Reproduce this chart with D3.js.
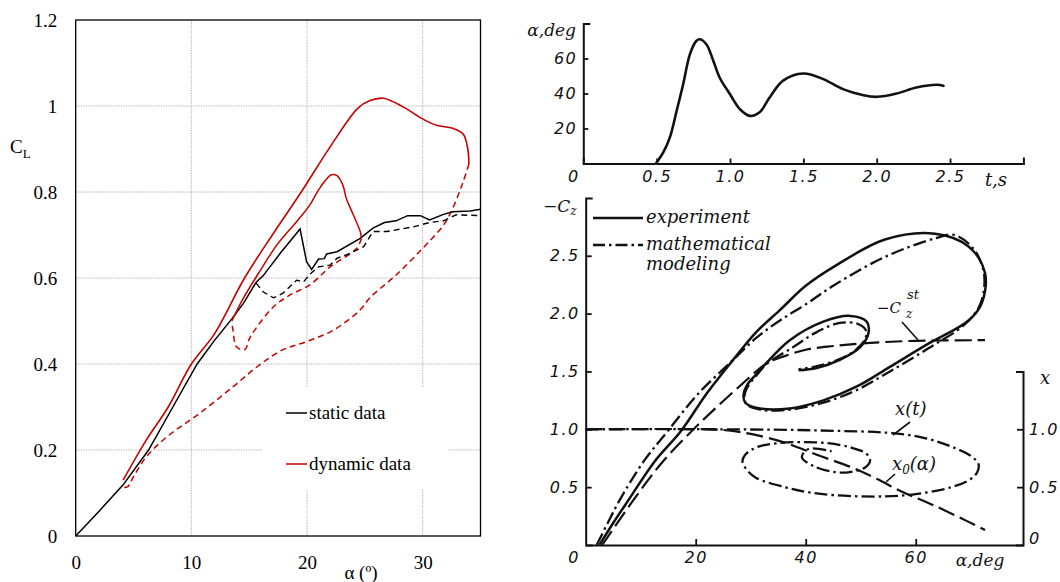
<!DOCTYPE html>
<html><head><meta charset="utf-8">
<script src="https://cdn.jsdelivr.net/npm/d3@7/dist/d3.min.js"></script>
<style>body{margin:0;background:#fff}</style>
</head><body><svg id="c" width="1060" height="582" xmlns="http://www.w3.org/2000/svg"></svg>
<script>
// ---------- LEFT PANEL DATA (alpha deg, CL) ----------
const leftXTicks = [0, 10, 20, 30];
const leftYTicks = [0, 0.2, 0.4, 0.6, 0.8, 1, 1.2];
const staticUp = [[0,0],[2,0.057],[4.1,0.119],[6.3,0.2],[8.4,0.3],[10.5,0.4],[12,0.455],[13.5,0.505],[14.5,0.541],[15.6,0.59],[16.2,0.605],[17.7,0.658],[19.4,0.714],[19.96,0.638],[20.4,0.62],[21.0,0.644],[21.5,0.645],[21.7,0.656],[22.6,0.661],[24.6,0.692],[25.7,0.716],[26.7,0.729],[27.7,0.733],[28.7,0.745],[29.8,0.745],[30.6,0.735],[31.8,0.748],[32.6,0.754],[34.1,0.756],[35,0.760]];
const staticDown = [[15.6,0.588],[16.2,0.568],[17.1,0.554],[17.9,0.564],[19.1,0.595],[19.7,0.591],[20.25,0.609],[21.0,0.626],[22.0,0.630],[22.6,0.646],[23.7,0.657],[24.9,0.673],[25.7,0.708],[26.9,0.708],[29.2,0.719],[30.6,0.729],[31.8,0.733],[32.9,0.747],[35,0.745]];
const dynOuterUp = [[4.1,0.13],[6.1,0.223],[8,0.3],[10.0,0.40],[12.0,0.47],[14.6,0.60],[17,0.70],[19.5,0.80],[22.0,0.905],[24.4,0.995],[25.4,1.012],[26.6,1.018],[28.3,0.998],[30.0,0.97],[31.2,0.955],[32.6,0.948],[33.5,0.935],[33.9,0.9],[34.0,0.865]];
const dynOuterDown = [[34.0,0.865],[33.5,0.824],[32.6,0.762],[31.8,0.723],[30.0,0.669],[27.7,0.607],[25.4,0.553],[24.6,0.526],[22.3,0.479],[19.96,0.452],[17.9,0.433],[15.9,0.398],[13.6,0.347],[10.7,0.285],[7.9,0.231],[6.1,0.184],[5.0,0.138],[4.5,0.115],[4.1,0.113]];
const dynInnerUp = [[13.5,0.50],[14.5,0.553],[15.9,0.615],[17.4,0.677],[19.1,0.731],[20.25,0.770],[21.1,0.809],[22.1,0.840],[22.6,0.838],[23.1,0.816],[23.4,0.785],[24.0,0.747],[24.6,0.708],[24.7,0.692]];
const dynInnerDown = [[24.7,0.692],[24.3,0.669],[22.0,0.626],[20.25,0.584],[18.5,0.560],[17.1,0.533],[15.1,0.463],[14.6,0.433],[13.9,0.440],[13.6,0.479],[13.5,0.495]];
const leftLegend = ["static data", "dynamic data"];

// ---------- RIGHT TOP DATA (t s, alpha deg) ----------
const topTTicks = [0, 0.5, 1.0, 1.5, 2.0, 2.5];
const topATicks = [20, 40, 60];
const alphaT = [[0.495,0],[0.545,6.3],[0.59,14.9],[0.636,30],[0.68,45],[0.727,62.5],[0.77,70],[0.795,71],[0.84,68],[0.886,58.7],[0.93,49],[1.0,39.6],[1.068,31],[1.136,27.2],[1.2,29.1],[1.27,37.7],[1.36,47.2],[1.5,51.4],[1.636,48.2],[1.77,42.5],[1.91,39],[2.0,38.1],[2.136,40],[2.27,43.4],[2.41,45],[2.455,44.4]];

// ---------- RIGHT BOTTOM DATA (alpha deg, -Cz / x) ----------
const botXTicks = [0, 20, 40, 60];
const botYTicks = [0.5, 1.0, 1.5, 2.0, 2.5];
const rightYTicks = [0, 0.5, 1.0];
const experiment = [[2.5,0],[5,0.19],[7.8,0.39],[12.5,0.72],[17.4,0.99],[22,1.31],[26.8,1.60],[31,1.84],[35.3,2.03],[40,2.24],[45.3,2.41],[54.4,2.64],[63.5,2.69],[69.6,2.58],[72.6,2.35],[72,2.09],[69.6,1.94],[62.3,1.74],[55.3,1.54],[49.3,1.37],[43.2,1.25],[37.1,1.18],[31.7,1.18],[29,1.23],[28.7,1.30],[29.3,1.38],[31.1,1.48],[32.6,1.56],[37.1,1.77],[43.2,1.93],[48.1,1.98],[51.1,1.93],[51.4,1.83],[49.9,1.71],[46.2,1.60],[42,1.53],[38.7,1.51]];
const modeling = [[2,0],[4,0.19],[6.2,0.39],[10.5,0.72],[15,0.99],[20.5,1.31],[26.8,1.60],[31,1.79],[35.3,1.94],[40,2.08],[45.3,2.25],[54.4,2.49],[63.5,2.65],[67,2.68],[70.5,2.56],[72.4,2.35],[71.8,2.09],[69,1.91],[62.3,1.70],[55.3,1.50],[49.3,1.34],[43.2,1.23],[37.1,1.17],[31.7,1.17],[29.2,1.22],[28.9,1.30],[29.6,1.38],[31.3,1.48],[32.8,1.56],[37.7,1.71],[42,1.84],[46.2,1.92],[49.5,1.91],[51,1.85],[50.8,1.78],[49.2,1.69],[45.8,1.60],[41.5,1.54],[38.7,1.52]];
const staticCz = [[3,0],[8.7,0.39],[14,0.72],[19.6,1.0],[24,1.2],[28.4,1.39],[32.9,1.57],[36,1.63],[40.2,1.69],[45,1.72],[51,1.745],[60,1.765],[72.6,1.77]];
const xOfT = [[0,1.0],[25,1.0],[42.3,0.99],[56.2,0.965],[62,0.92],[66.5,0.85],[70,0.77],[71.4,0.70],[71.2,0.63],[70,0.57],[66.5,0.50],[60,0.44],[54.4,0.42],[45.3,0.43],[40,0.46],[36.2,0.50],[31,0.58],[29.3,0.65],[28.5,0.72],[29,0.78],[31.4,0.85],[35,0.88],[39.3,0.89],[44,0.88],[48.4,0.84],[51,0.79],[51.7,0.73],[50.8,0.67],[48,0.63],[45.3,0.63],[41.5,0.68],[39.3,0.76],[40.5,0.83],[44.7,0.81]];
const x0OfAlpha = [[0,1.0],[22,1.0],[25.9,0.99],[30,0.96],[36.2,0.885],[42,0.78],[48.4,0.67],[53,0.57],[57.5,0.46],[62,0.37],[67,0.26],[72.6,0.13]];
const botLegend = ["experiment", "mathematical", "modeling"];

// ================= DRAW =================
const svg = d3.select("#c");
const SERIF = "'Liberation Serif','Times New Roman',serif";
const RED = "#c40000";

// ---- Left panel ----
const xL = d3.scaleLinear([0,35],[75.7,480.5]);
const yL = d3.scaleLinear([0,1.2],[536,20]);
const gL = svg.append("g");
gL.selectAll(".vg").data(leftXTicks.slice(1)).join("line")
  .attr("x1", d=>xL(d)).attr("x2", d=>xL(d)).attr("y1", yL(1.2)).attr("y2", yL(0))
  .attr("stroke","#b8b8b8").attr("stroke-width",1).attr("stroke-dasharray","1.5,1");
gL.selectAll(".hg").data(leftYTicks.slice(1,-1)).join("line")
  .attr("y1", d=>yL(d)).attr("y2", d=>yL(d)).attr("x1", xL(0)).attr("x2", xL(35))
  .attr("stroke","#b8b8b8").attr("stroke-width",1).attr("stroke-dasharray","1.5,1");
gL.append("rect").attr("x",263).attr("y",387).attr("width",185).attr("height",102).attr("fill","#fff");
gL.append("rect").attr("x",xL(0)).attr("y",yL(1.2)).attr("width",xL(35)-xL(0)).attr("height",yL(0)-yL(1.2))
  .attr("fill","none").attr("stroke","#000").attr("stroke-width",1.3);
const axL = gL.append("g").attr("transform",`translate(${xL(0)},0)`)
  .call(d3.axisLeft(yL).tickValues(leftYTicks).tickFormat(d=>String(d)).tickSize(0).tickPadding(18.5));
const axB = gL.append("g").attr("transform",`translate(0,${yL(0)})`)
  .call(d3.axisBottom(xL).tickValues(leftXTicks).tickFormat(d=>String(d)).tickSize(0).tickPadding(20));
[axL, axB].forEach(a=>{a.select(".domain").remove(); a.selectAll("text").attr("font-family",SERIF).attr("font-size",19).attr("fill","#000");});
const cl = gL.append("text").attr("x",10).attr("y",153).attr("font-family",SERIF).attr("font-size",19);
cl.append("tspan").text("C");
cl.append("tspan").attr("font-size",13).attr("dy",5).text("L");
gL.append("text").attr("x",361).attr("y",579).attr("text-anchor","middle").attr("font-family",SERIF).attr("font-size",19).text("α (º)");
const lineL = d3.line().x(d=>xL(d[0])).y(d=>yL(d[1]));
const lineLs = d3.line().x(d=>xL(d[0])).y(d=>yL(d[1])).curve(d3.curveCatmullRom.alpha(0.5));
gL.append("path").attr("d",lineLs(dynOuterDown)).attr("fill","none").attr("stroke",RED).attr("stroke-width",1.5).attr("stroke-dasharray","6,4");
gL.append("path").attr("d",lineLs(dynInnerDown)).attr("fill","none").attr("stroke",RED).attr("stroke-width",1.5).attr("stroke-dasharray","6,4");
gL.append("path").attr("d",lineL(staticDown)).attr("fill","none").attr("stroke","#000").attr("stroke-width",1.4).attr("stroke-dasharray","6,4");
gL.append("path").attr("d",lineL(staticUp)).attr("fill","none").attr("stroke","#000").attr("stroke-width",1.5);
gL.append("path").attr("d",lineLs(dynOuterUp)).attr("fill","none").attr("stroke",RED).attr("stroke-width",1.6);
gL.append("path").attr("d",lineLs(dynInnerUp)).attr("fill","none").attr("stroke",RED).attr("stroke-width",1.5);
const legCol = ["#000", RED];
leftLegend.forEach((t,i)=>{
  const y = 413 + i*51;
  gL.append("line").attr("x1",286).attr("x2",307).attr("y1",y).attr("y2",y).attr("stroke",legCol[i]).attr("stroke-width",1.5);
  gL.append("text").attr("x",309).attr("y",y+6).attr("font-family",SERIF).attr("font-size",19).text(t);
});

// ---- Right panel common styling ----
const NUMF = "'DejaVu Sans','Liberation Sans',sans-serif";
const TXTF = "'DejaVu Serif','Liberation Serif',serif";
const INK = "#111";
function styleAxis(a){
  a.selectAll(".domain").attr("stroke",INK).attr("stroke-width",2);
  a.selectAll(".tick line").attr("stroke",INK).attr("stroke-width",1.8);
  a.selectAll("text").attr("font-family",NUMF).attr("font-style","italic").attr("font-size",16).attr("letter-spacing",1.5).attr("fill",INK);
}

// ---- Right top: alpha(t) ----
const xT = d3.scaleLinear([0,3],[583.3,1023.4]);
const yT = d3.scaleLinear([0,80],[163.5,23.5]);
const gT = svg.append("g");
const axTB = gT.append("g").attr("transform",`translate(0,${yT(0)})`)
  .call(d3.axisBottom(xT).tickValues(topTTicks).tickFormat(d=>d===0?"0":d.toFixed(1)).tickSizeInner(-5).tickSizeOuter(-6).tickPadding(7));
axTB.selectAll(".tick").filter(d=>d===0).select("line").remove();
styleAxis(axTB);
axTB.selectAll(".tick").filter(d=>d===0).select("text").attr("dx",-10);
const axTL = gT.append("g").attr("transform",`translate(${xT(0)},0)`)
  .call(d3.axisLeft(yT).tickValues(topATicks).tickFormat(d=>String(d)).tickSizeInner(-5).tickSizeOuter(-7).tickPadding(6));
styleAxis(axTL);
gT.append("text").attr("x",576).attr("y",36).attr("text-anchor","end").attr("font-family",TXTF).attr("font-style","italic").attr("font-size",17).attr("fill",INK).text("α,deg");
gT.append("text").attr("x",996).attr("y",186).attr("text-anchor","middle").attr("font-family",TXTF).attr("font-style","italic").attr("font-size",18).attr("fill",INK).text("t,s");
gT.append("path").attr("d",d3.line().x(d=>xT(d[0])).y(d=>yT(d[1])).curve(d3.curveCatmullRom.alpha(0.5))(alphaT))
  .attr("fill","none").attr("stroke",INK).attr("stroke-width",2.6).attr("stroke-linecap","round");

// ---- Right bottom: -Cz(alpha), x ----
const xB = d3.scaleLinear([0,79.5],[585.7,1023]);
const yB = d3.scaleLinear([0,3],[545,197.9]);
const yR = d3.scaleLinear([0,1.5],[545,371.4]);
const gB = svg.append("g");
const axBB = gB.append("g").attr("transform",`translate(0,${yB(0)})`)
  .call(d3.axisBottom(xB).tickValues(botXTicks).tickFormat(d=>String(d)).tickSizeInner(-6).tickSizeOuter(0).tickPadding(7));
axBB.selectAll(".tick").filter(d=>d===0).select("line").remove();
styleAxis(axBB);
axBB.selectAll(".tick").filter(d=>d===0).select("text").attr("dx",-12);
const axBL = gB.append("g").attr("transform",`translate(${xB(0)},0)`)
  .call(d3.axisLeft(yB).tickValues(botYTicks).tickFormat(d=>d.toFixed(1)).tickSizeInner(-6).tickSizeOuter(-7).tickPadding(6));
styleAxis(axBL);
const axBR = gB.append("g").attr("transform",`translate(${xB(79.5)},0)`)
  .call(d3.axisRight(yR).tickValues(rightYTicks).tickFormat(d=>d===0?"0":d.toFixed(1)).tickSizeInner(-6).tickSizeOuter(-7).tickPadding(6));
axBR.selectAll(".tick").filter(d=>d===0).select("line").remove();
styleAxis(axBR);
axBR.selectAll(".tick").filter(d=>d===0).select("text").attr("dy","-0.1em");
const cz = gB.append("text").attr("x",543).attr("y",212).attr("font-family",TXTF).attr("font-style","italic").attr("font-size",17).attr("fill",INK);
cz.append("tspan").text("−C");
cz.append("tspan").attr("font-size",12).attr("dy",3).text("z");
gB.append("text").attr("x",1040).attr("y",384).attr("font-family",TXTF).attr("font-style","italic").attr("font-size",18).attr("fill",INK).text("x");
gB.append("text").attr("x",980).attr("y",566).attr("text-anchor","middle").attr("font-family",TXTF).attr("font-style","italic").attr("font-size",17).attr("fill",INK).text("α,deg");

const lineB = d3.line().x(d=>xB(d[0])).y(d=>yB(d[1])).curve(d3.curveCatmullRom.alpha(0.5));
const DASHDOT = "13,4,2.5,4";
const LONGDASH = "17,6";
gB.append("path").attr("d",lineB(staticCz)).attr("fill","none").attr("stroke",INK).attr("stroke-width",2.2).attr("stroke-dasharray",LONGDASH);
gB.append("path").attr("d",lineB(x0OfAlpha)).attr("fill","none").attr("stroke",INK).attr("stroke-width",2.2).attr("stroke-dasharray",LONGDASH);
gB.append("path").attr("d",lineB(xOfT)).attr("fill","none").attr("stroke",INK).attr("stroke-width",2.3).attr("stroke-dasharray",DASHDOT);
gB.append("path").attr("d",lineB(modeling)).attr("fill","none").attr("stroke",INK).attr("stroke-width",2.3).attr("stroke-dasharray",DASHDOT);
gB.append("path").attr("d",lineB(experiment)).attr("fill","none").attr("stroke",INK).attr("stroke-width",2.5);

gB.append("line").attr("x1",593).attr("x2",643).attr("y1",218).attr("y2",218).attr("stroke",INK).attr("stroke-width",2.6);
gB.append("line").attr("x1",593).attr("x2",643).attr("y1",245).attr("y2",245).attr("stroke",INK).attr("stroke-width",2.4).attr("stroke-dasharray","12,4,2.5,4");
[[botLegend[0],223],[botLegend[1],250],[botLegend[2],270]].forEach(([t,y])=>{
  gB.append("text").attr("x",646).attr("y",y).attr("font-family",TXTF).attr("font-style","italic").attr("font-size",18).attr("fill",INK).text(t);
});
// annotations
const annot = (x,y,s,t)=>gB.append("text").attr("x",x).attr("y",y).attr("font-family",TXTF).attr("font-style","italic").attr("font-size",s).attr("fill",INK).text(t);
annot(877,313,15,"−C");
annot(907,299,13,"st");
annot(906,318,12,"z");
gB.append("line").attr("x1",902).attr("y1",322).attr("x2",918).attr("y2",340).attr("stroke",INK).attr("stroke-width",1.6);
annot(895,415,18,"x(t)");
gB.append("line").attr("x1",910).attr("y1",422).attr("x2",893).attr("y2",435).attr("stroke",INK).attr("stroke-width",1.6);
const x0 = gB.append("text").attr("x",892).attr("y",470).attr("font-family",TXTF).attr("font-style","italic").attr("font-size",18).attr("fill",INK);
x0.append("tspan").text("x");
x0.append("tspan").attr("font-size",12).attr("dy",4).text("0");
x0.append("tspan").attr("dy",-4).text("(α)");
gB.append("line").attr("x1",895).attr("y1",474).attr("x2",886).attr("y2",482).attr("stroke",INK).attr("stroke-width",1.6);
</script></body></html>
